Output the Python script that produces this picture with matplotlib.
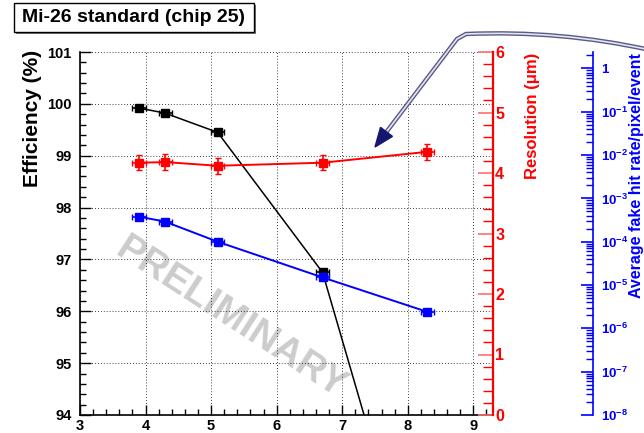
import numpy as np
import matplotlib
matplotlib.use('Agg')
import matplotlib.pyplot as plt
from matplotlib.path import Path
from matplotlib.patches import PathPatch, Polygon, Rectangle
from matplotlib.ticker import MultipleLocator, LogLocator, FuncFormatter, NullFormatter

plt.rcParams['font.family'] = ['Liberation Sans', 'DejaVu Sans']
plt.rcParams['font.weight'] = 'bold'
plt.rcParams['mathtext.fontset'] = 'custom'
plt.rcParams['mathtext.rm'] = 'Liberation Sans:bold'
plt.rcParams['mathtext.bf'] = 'Liberation Sans:bold'
plt.rcParams['mathtext.default'] = 'rm'

# measurements vs discriminator threshold
thresh = [3.9, 4.3, 5.1, 6.7, 8.3]
thresh_err = [0.1, 0.1, 0.1, 0.1, 0.1]
efficiency = [99.92, 99.82, 99.45, 96.75, 89.8]
resolution = [4.17, 4.18, 4.12, 4.17, 4.35]
resolution_err = [0.12, 0.13, 0.13, 0.12, 0.13]
fake_rate = [3.8e-4, 2.9e-4, 1.0e-4, 1.5e-5, 2.4e-6]

x_ticks = [3, 4, 5, 6, 7, 8, 9]
eff_ticks = [94, 95, 96, 97, 98, 99, 100, 101]
res_ticks = [0, 1, 2, 3, 4, 5, 6]

W, H = 644, 433
RED = '#ff0000'
BLUE = '#0000ff'


def px(x, y):
    """Pixel position (origin top-left) to figure fraction."""
    return x / W, 1 - y / H


fig = plt.figure(figsize=(W / 100, H / 100), dpi=100)
ax = fig.add_axes([80 / W, 1 - 415 / H, 413 / W, 363 / H])

ax.set_xlim(3, 9.3)
ax.set_ylim(94, 101)
ax.set_xticks(x_ticks)
ax.set_yticks(eff_ticks)
ax.xaxis.set_minor_locator(MultipleLocator(0.2))
ax.yaxis.set_minor_locator(MultipleLocator(0.2))
ax.tick_params(which='both', direction='in', labelsize=10.5, width=1)
ax.tick_params(axis='x', which='major', length=7, pad=3)
ax.tick_params(axis='y', which='major', length=8, pad=6)
ax.tick_params(which='minor', length=4)
ax.spines['top'].set_visible(False)
ax.spines['right'].set_visible(False)
for s in ('left', 'bottom'):
    ax.spines[s].set_linewidth(1.2)
ax.grid(True, which='major', color='k', linewidth=0.6, linestyle=(0, (1, 2.5)))
ax.set_axisbelow(True)

ax.text(5.29, 95.87, 'PRELIMINARY', transform=ax.transData, rotation=-33,
        rotation_mode='anchor', ha='center', va='center', fontsize=28,
        fontweight='bold', color='#cccccc', zorder=0)

ax.errorbar(thresh, efficiency, xerr=thresh_err, color='k', marker='s',
            ms=5.5, lw=1.1, elinewidth=1.2, capsize=2, zorder=3)

# resolution on the right-hand red axis
ax2 = ax.twinx()
ax2.set_ylim(0, 6)
ax2.set_yticks(res_ticks)
ax2.yaxis.set_minor_locator(MultipleLocator(0.2))
for s in ('left', 'top', 'bottom'):
    ax2.spines[s].set_visible(False)
ax2.spines['right'].set_color(RED)
ax2.spines['right'].set_linewidth(1.6)
ax2.tick_params(which='both', direction='in', colors=RED, labelsize=11.5)
ax2.tick_params(which='major', length=11, pad=1.5, color='#ff7070', width=1.2)
ax2.tick_params(which='minor', length=7, width=1)
ax2.errorbar(thresh, resolution, xerr=thresh_err, yerr=resolution_err,
             color=RED, marker='s', ms=5.5, lw=1.4, elinewidth=1.2, capsize=2)

# fake hit rate on a detached blue log axis
ax3 = ax.twinx()
ax3.set_yscale('log')
ax3.set_ylim(1e-8, 10 ** 0.38)
ax3.spines['right'].set_position(('axes', (593 - 80) / 413))
for s in ('left', 'top', 'bottom'):
    ax3.spines[s].set_visible(False)
ax3.spines['right'].set_color(BLUE)
ax3.spines['right'].set_linewidth(1.2)
ax3.yaxis.set_major_locator(LogLocator(base=10, numticks=20))
ax3.yaxis.set_minor_locator(LogLocator(base=10, subs=np.arange(2, 10), numticks=20))
ax3.yaxis.set_minor_formatter(NullFormatter())
ax3.yaxis.set_major_formatter(FuncFormatter(
    lambda v, p: '1' if abs(v - 1) < 1e-9 else r'$10^{%d}$' % round(np.log10(v))))
ax3.tick_params(which='both', direction='in', colors=BLUE, labelsize=9.5)
ax3.tick_params(which='major', length=9, pad=6, width=1.2)
ax3.tick_params(which='minor', length=5, width=1)
ax3.errorbar(thresh, fake_rate, xerr=thresh_err, color=BLUE, marker='s',
             ms=5.5, lw=1.4, elinewidth=1.2, capsize=2)

# axis titles, top-aligned as in ROOT
fig.text(*px(33, 50), 'Efficiency (%)', rotation=90, ha='center', va='top',
         fontsize=15, fontweight='bold', color='k')
fig.text(*px(533, 53), 'Resolution (\u03bcm)', rotation=90, ha='center', va='top',
         fontsize=12, fontweight='bold', color=RED)
fig.text(*px(637, 53), 'Average fake hit rate/pixel/event', rotation=90,
         ha='center', va='top', fontsize=11.5, fontweight='bold', color=BLUE)

# title box with drop shadow
x0, y0 = px(14, 32)
bw, bh = 240 / W, 29 / H
fig.patches.append(Rectangle((x0 + 2 / W, y0 - 2 / H), bw, bh, transform=fig.transFigure,
                             facecolor='#777777', edgecolor='none', zorder=1))
fig.patches.append(Rectangle((x0, y0), bw, bh, transform=fig.transFigure,
                             facecolor='white', edgecolor='k', lw=1, zorder=2))
fig.text(*px(134, 18), 'Mi-26 standard (chip 25)', ha='center', va='center',
         fontsize=14, fontweight='bold', color='k', zorder=3)

# call-out arrow pointing at the resolution curve
tip = np.array([375.0, 147.0])
corner = np.array([457.0, 39.0])
d = (corner - tip) / np.linalg.norm(corner - tip)
perp = np.array([d[1], -d[0]])
base = tip + 19 * d
verts = [px(650, 50), px(560, 30), px(466, 34), px(*corner), px(*base)]
codes = [Path.MOVETO, Path.CURVE3, Path.CURVE3, Path.LINETO, Path.LINETO]
arrow_path = Path(verts, codes)
fig.patches.append(PathPatch(arrow_path, transform=fig.transFigure, fill=False,
                             edgecolor='#5a5a8c', lw=3.2, zorder=5))
fig.patches.append(PathPatch(arrow_path, transform=fig.transFigure, fill=False,
                             edgecolor='#e4e4ec', lw=1.2, zorder=6))
head = [px(*tip), px(*(base + 7.5 * perp)), px(*(base - 7.5 * perp))]
fig.patches.append(Polygon(head, closed=True, transform=fig.transFigure,
                           facecolor='#16166e', edgecolor='#16166e', zorder=7))

fig.savefig('out.png', dpi=100)
